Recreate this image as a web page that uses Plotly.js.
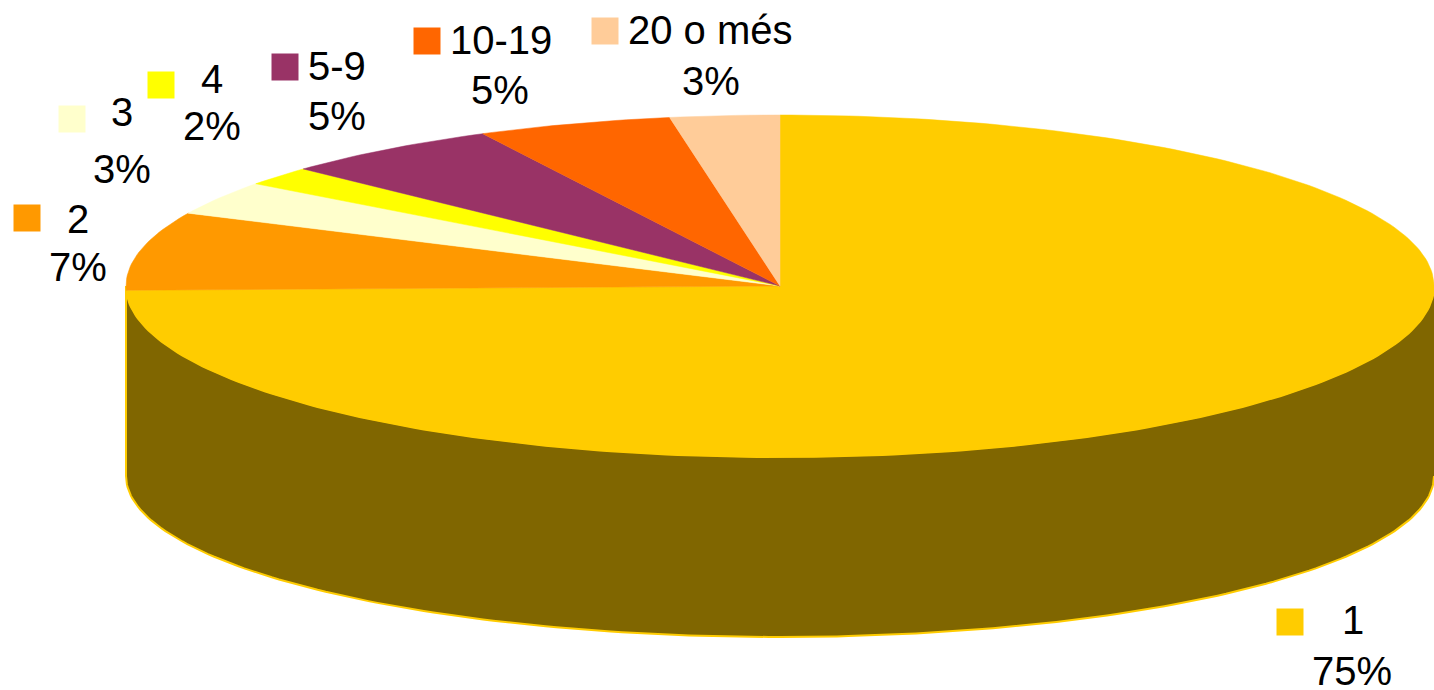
<!DOCTYPE html>
<html>
<head>
<meta charset="utf-8">
<script src="https://cdn.plot.ly/plotly-3.0.1.min.js"></script>
<style>html,body{margin:0;padding:0;background:#fff;overflow:hidden}#chart{width:1434px;height:690px}</style>
</head>
<body>
<div id="chart"></div>
<script>
// Data (clockwise from 12 o'clock)
const categories = ['1', '2', '3', '4', '5-9', '10-19', '20 o més'];
const shares = [74.6, 7.4, 3.2, 1.8, 5.49, 4.81, 2.7];

// Styles
const colors = ['#FFCC00', '#FF9900', '#FFFFCC', '#FFFF00', '#993366', '#FF6600', '#FFCC99'];
const sideColor = '#806600';

// Layout (axis units equal pixels)
const cx = 780, cy = 286, rx = 654, ry = 171;
const baseCy = 476, baseRy = 161;
const swatchX = [1290, 27, 72, 161, 285, 427, 605];
const swatchY = [622, 218, 119, 85, 67, 41, 31];
const nameX = [1353, 78, 122, 212, 337, 501, 710];
const nameY = [620, 219, 112, 79, 66, 40, 30];
const pctX = [1352, 78, 122, 212, 337, 500, 711];
const pctY = [671, 267, 169, 126, 116, 90, 81];
const fontSize = 40;

function arc(fromDeg, toDeg, cY, rY) {
  const xs = [], ys = [];
  const n = Math.max(2, Math.ceil(Math.abs(toDeg - fromDeg)));
  for (let i = 0; i <= n; i++) {
    const t = (fromDeg + (toDeg - fromDeg) * i / n) * Math.PI / 180;
    xs.push(cx + rx * Math.sin(t));
    ys.push(cY - rY * Math.cos(t));
  }
  return {xs, ys};
}

const traces = [];

// Side wall: visible lower half of the rim
const upper = arc(90, 270, cy, ry), lower = arc(270, 90, baseCy, baseRy);
traces.push({
  type: 'scatter', mode: 'lines', fill: 'toself', fillcolor: sideColor,
  x: upper.xs.concat(lower.xs), y: upper.ys.concat(lower.ys),
  line: {color: colors[0], width: 2}, hoverinfo: 'skip', showlegend: false
});

// Top face wedges, computed from shares
const total = shares.reduce((a, b) => a + b, 0);
let cum = 0;
shares.forEach((v, i) => {
  const a0 = cum / total * 360;
  cum += v;
  const a1 = cum / total * 360;
  const a = arc(a0, a1, cy, ry);
  traces.push({
    type: 'scatter', mode: 'lines', fill: 'toself', fillcolor: colors[i],
    x: [cx].concat(a.xs, [cx]), y: [cy].concat(a.ys, [cy]),
    line: {color: colors[i], width: 0.5}, name: categories[i],
    text: Math.round(v / total * 100) + '%', hoverinfo: 'name+text', showlegend: false
  });
});

// Label swatches
traces.push({
  type: 'scatter', mode: 'markers', x: swatchX, y: swatchY,
  marker: {symbol: 'square', size: 27, color: colors, line: {width: 0}},
  hoverinfo: 'skip', showlegend: false, cliponaxis: false
});

const font = {family: '"Liberation Sans", Arial, sans-serif', size: fontSize, color: '#000'};
const annotations = [];
categories.forEach((c, i) => {
  annotations.push({x: nameX[i], y: nameY[i], text: c, showarrow: false, xanchor: 'center', yanchor: 'middle', font});
  annotations.push({x: pctX[i], y: pctY[i], text: Math.round(shares[i] / total * 100) + '%', showarrow: false, xanchor: 'center', yanchor: 'middle', font});
});

Plotly.newPlot('chart', traces, {
  width: 1434, height: 690,
  margin: {l: 0, r: 0, t: 0, b: 0},
  paper_bgcolor: '#fff', plot_bgcolor: '#fff',
  xaxis: {range: [0, 1434], visible: false, fixedrange: true},
  yaxis: {range: [690, 0], visible: false, fixedrange: true},
  showlegend: false, annotations
}, {displayModeBar: false, staticPlot: true});
</script>
</body>
</html>
